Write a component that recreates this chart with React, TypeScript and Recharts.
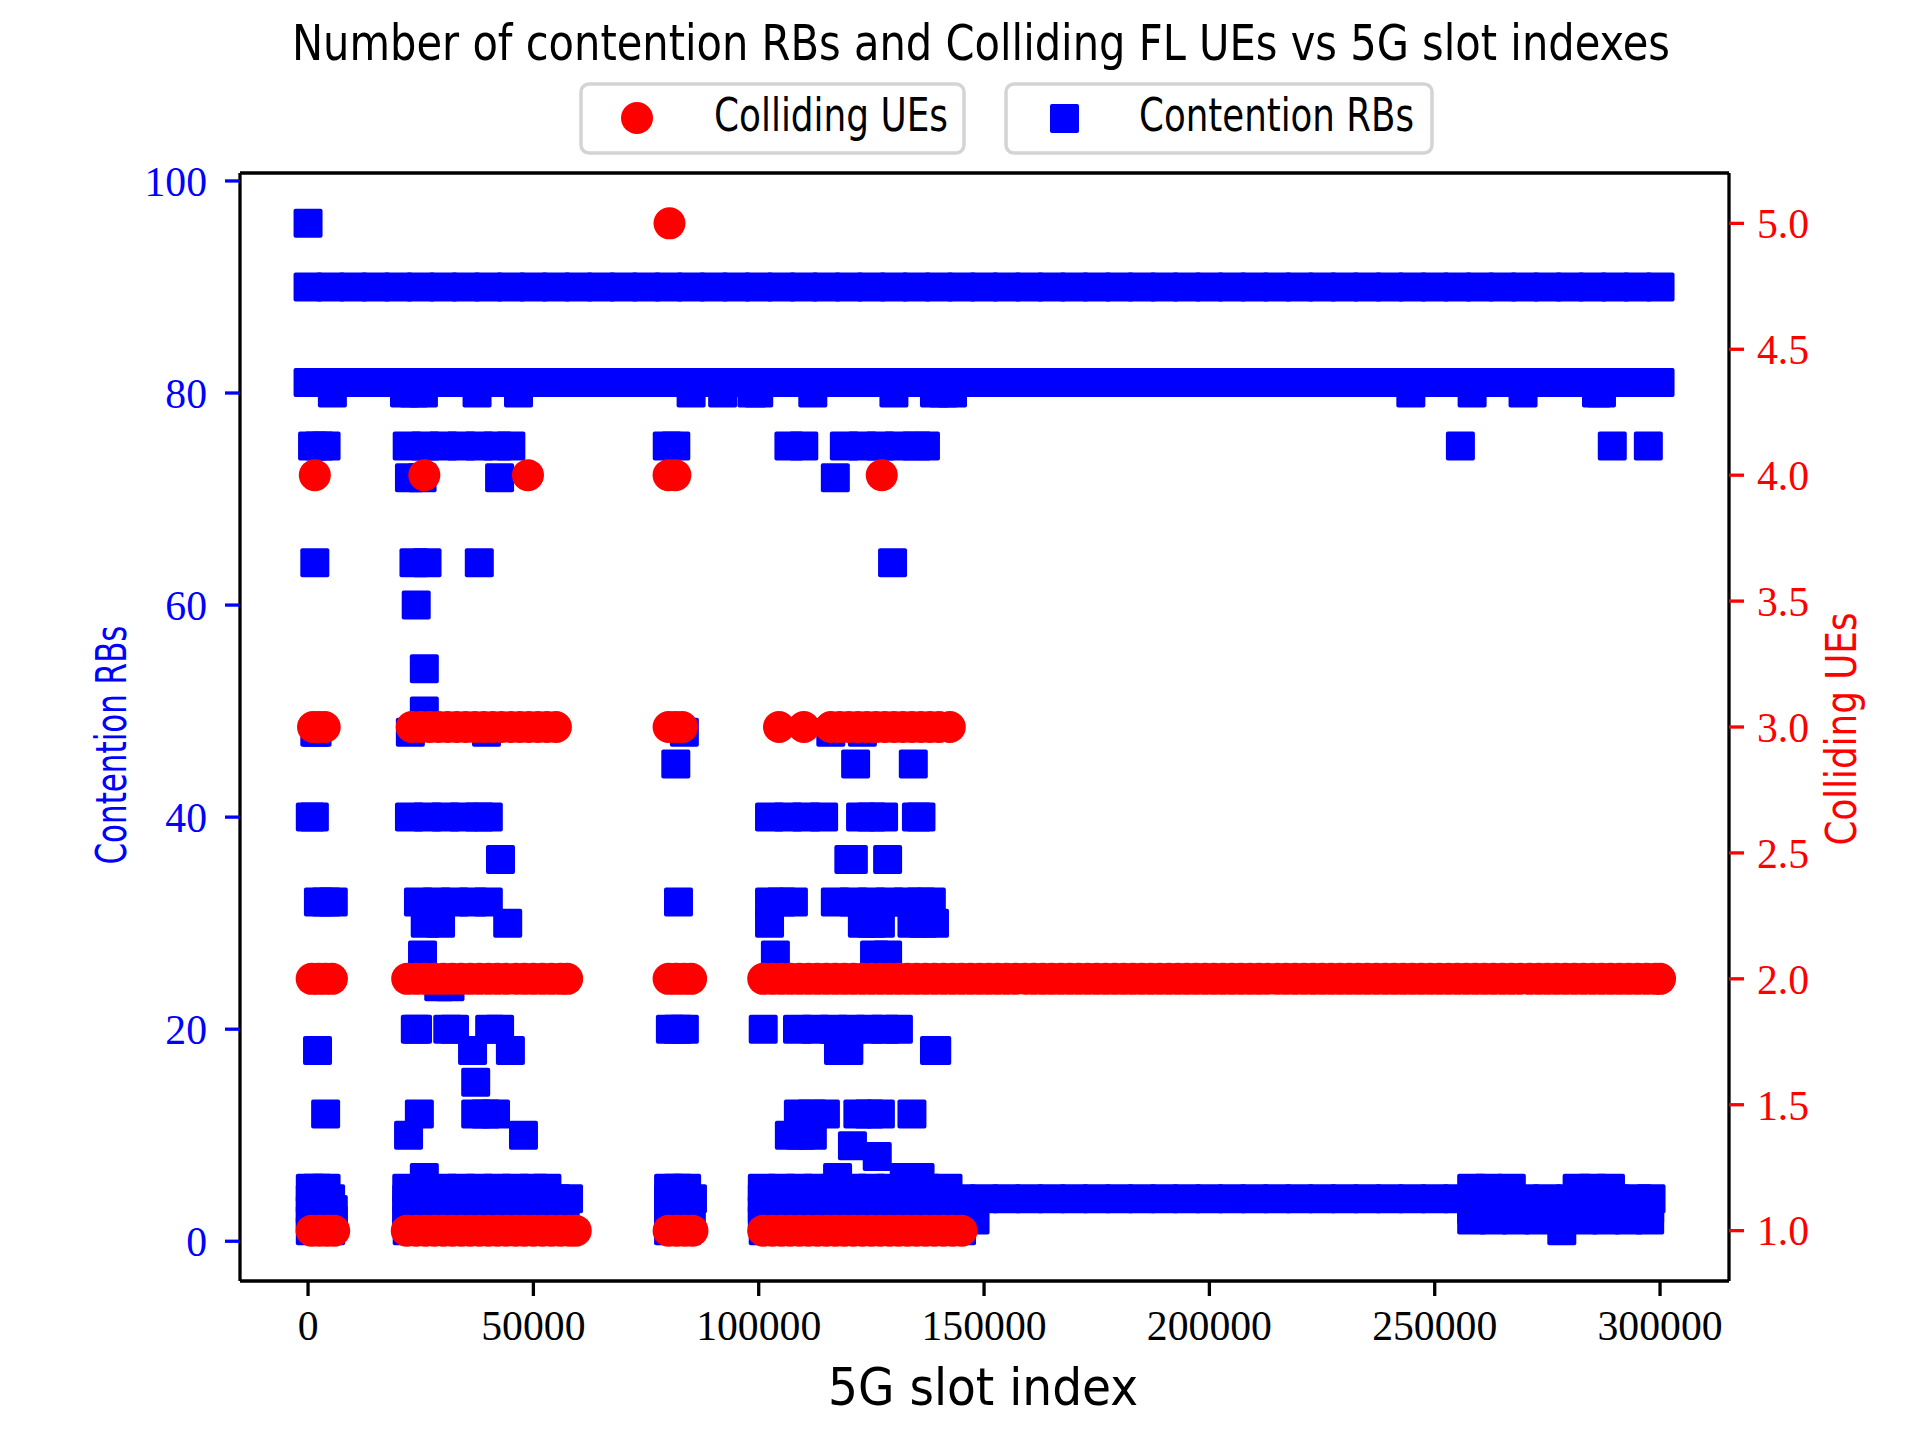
import { ReferenceLine, Scatter, ScatterChart, XAxis, YAxis } from "recharts";

// slot indexes are written in thousands, multiplied out when the points are built
const steadySlots = [
  0, 5, 10, 15, 20, 25, 30, 35, 40, 45, 50, 55, 60, 65, 70, 75, 80, 85, 90, 95, 100,
  105, 110, 115, 120, 125, 130, 135, 140, 145, 150, 155, 160, 165, 170, 175, 180, 185,
  190, 195, 200, 205, 210, 215, 220, 225, 230, 235, 240, 245, 250, 255, 260, 265, 270,
  275, 280, 285, 290, 295, 300,
];

const rb96 = [0];
const rb80 = [5.4, 21.4, 23.5, 25.6, 37.5, 46.7, 85, 92, 98.5, 100, 112, 130, 139, 141, 143, 244.7, 258.3, 269.6, 285.9, 287];
const rb75 = [1, 2.5, 4, 22, 26, 30, 34, 38, 42, 45, 79.7, 81.6, 106.7, 110, 119, 123, 127, 131, 135, 137, 255.7, 289.4, 297.4];
const rb72 = [22.5, 25.3, 42.5, 117];
const rb64 = [1.5, 23.5, 26.4, 38, 129.7];
const rb60 = [24];
const rb54 = [25.8];
const rb50 = [25.8];
const rb48 = [1.5, 2, 22.7, 39.6, 83.5, 116, 123];
const rb45 = [81.6, 121.5, 134.3];
const rb40 = [0.5, 1.4, 22.5, 26.5, 30.5, 34.5, 38, 40, 102.4, 106.5, 110.5, 114.4, 122.6, 125, 127.7, 135, 136];
const rb36 = [42.7, 120, 121, 128.6];
const rb32 = [2.3, 4, 5.6, 24.5, 28.5, 32.5, 36.5, 40, 82.2, 102.4, 105, 107.7, 117, 121, 125, 129, 133, 136, 138.3];
const rb30 = [26, 29.4, 44.3, 102.4, 123, 125, 127, 134, 136.5, 139];
const rb27 = [25.4, 103.7, 125.7, 128.6];
const rb24 = [29, 31.5];
const rb20 = [23.8, 24.3, 31, 32.5, 40.3, 42.5, 80.4, 82, 83.5, 101, 108.6, 112.6, 116.6, 120.6, 124.6, 128, 131];
const rb18 = [2.1, 36.5, 44.9, 117.7, 120, 139, 139.5];
const rb15 = [37.2];
const rb12 = [3.9, 24.7, 37.2, 39.4, 41.6, 108.8, 111.8, 114.8, 122, 124.5, 127, 134];
const rb10 = [22.3, 47.8, 106.8, 109.3, 111.9];
const rb9 = [120.8];
const rb8 = [126.3];
const rb6 = [25.8, 117.5, 132.3, 134, 135.8];
const rb5 = [
  0.5, 2, 4, 21.9, 26, 30, 34, 38, 42, 46, 50, 53, 80, 82, 84, 100.8, 105, 109, 113, 117,
  121, 125, 129, 133, 137, 142, 258.2, 262, 267, 281.6, 285, 289,
];
const rb4 = [
  0.5, 3, 5, 21.9, 26, 31, 36, 41, 46, 51, 55, 57.8, 80, 83, 85.3, 100.8, 105, 110, 115,
  120, 125, 130, 135, 140, 145, 150, 155, 160, 165, 170, 175, 180, 185, 190, 195, 200,
  205, 210, 215, 220, 225, 230, 235, 240, 245, 250, 255, 260, 265, 270, 275, 280, 285,
  290, 295, 298,
];
const rb3 = [
  0.5, 3, 5.6, 21.9, 26, 31, 36, 41, 46, 51, 55, 57, 80, 83, 85, 100.8, 105, 110, 115,
  120, 125, 130, 135, 140, 145, 258.2, 263, 268, 273, 278, 283, 288, 293, 297.7,
];
const rb2 = [
  0.5, 3, 5.6, 21.9, 26, 31, 36, 41, 46, 51, 55, 57, 80, 83, 85, 100.8, 105, 110, 115,
  120, 125, 130, 135, 140, 145, 148, 258.2, 263, 268, 273, 278, 283, 288, 293, 297.7,
];
const rb1 = [0.5, 3, 5, 22, 26, 31, 36, 41, 46, 51, 55, 57, 80, 82, 84, 101, 105, 110, 115, 120, 125, 130, 135, 140, 145, 278.2];

const ue5 = [80.2];
const ue4 = [1.5, 25.8, 48.8, 80, 81.5, 127.3];
const ue3 = [
  1.1, 2.4, 3.7, 23, 25, 27, 29, 31, 33, 35, 37, 39, 41, 43, 45, 47, 49, 51, 53, 55, 80,
  81.5, 83, 104.5, 110, 116, 118, 120, 122, 124, 126, 128, 130, 132, 134, 136, 138, 140,
  142.4,
];
const ue2 = [
  0.8, 2.3, 3.8, 5.3, 22, 24, 26, 28, 30, 32, 34, 36, 38, 40, 42, 44, 46, 48, 50, 52, 54,
  56, 57.5, 80, 81.7, 83.4, 85, 101, 103, 105, 107, 109, 111, 113, 115, 117, 119, 121,
  123, 125, 127, 129, 131, 133, 135, 137, 139, 141, 143, 145, 147, 149, 151, 153, 155,
  157, 159, 161, 163, 165, 167, 169, 171, 173, 175, 177, 179, 181, 183, 185, 187, 189,
  191, 193, 195, 197, 199, 201, 203, 205, 207, 209, 211, 213, 215, 217, 219, 221, 223,
  225, 227, 229, 231, 233, 235, 237, 239, 241, 243, 245, 247, 249, 251, 253, 255, 257,
  259, 261, 263, 265, 267, 269, 271, 273, 275, 277, 279, 281, 283, 285, 287, 289, 291,
  293, 295, 297, 299, 300,
];
const ue1 = [
  0.8, 2.5, 4.2, 5.8, 21.9, 24, 26, 28, 30, 32, 34, 36, 38, 40, 42, 44, 46, 48, 50, 52,
  54, 56, 58, 59.4, 80, 81.8, 83.6, 85.3, 101, 103, 105, 107, 109, 111, 113, 115, 117,
  119, 121, 123, 125, 127, 129, 131, 133, 135, 137, 139, 141, 143, 145,
];

const slotTicks = [0, 50000, 100000, 150000, 200000, 250000, 300000];
const rbTicks = [0, 20, 40, 60, 80, 100];
const ueTicks = [1, 1.5, 2, 2.5, 3, 3.5, 4, 4.5, 5];

const rbLevels: Array<[number, number[]]> = [
  [96, rb96], [90, steadySlots], [81, steadySlots], [80, rb80], [75, rb75], [72, rb72],
  [64, rb64], [60, rb60], [54, rb54], [50, rb50], [48, rb48], [45, rb45], [40, rb40],
  [36, rb36], [32, rb32], [30, rb30], [27, rb27], [24, rb24], [20, rb20], [18, rb18],
  [15, rb15], [12, rb12], [10, rb10], [9, rb9], [8, rb8], [6, rb6], [5, rb5], [4, rb4],
  [3, rb3], [2, rb2], [1, rb1],
];
const ueLevels: Array<[number, number[]]> = [[5, ue5], [4, ue4], [3, ue3], [2, ue2], [1, ue1]];

const toPoints = (levels: Array<[number, number[]]>) =>
  levels.flatMap(([value, slots]) => slots.map((k) => ({ x: k * 1000, y: value })));

const rbPoints = toPoints(rbLevels);
const uePoints = toPoints(ueLevels);

const BLUE = "#0000ff";
const RED = "#ff0000";
const serif = "'Liberation Serif', 'Times New Roman', serif";
const sans = "'Liberation Sans Narrow', 'DejaVu Sans Condensed', 'Roboto Condensed', 'Liberation Sans', sans-serif";
const spine = { stroke: "#000", strokeWidth: 3.3 };

const SquareMark = (p: any) => (
  <rect x={p.cx - 14.5} y={p.cy - 14.5} width={29} height={29} rx={2} fill={BLUE} />
);
const CircleMark = (p: any) => <circle cx={p.cx} cy={p.cy} r={16} fill={RED} />;

export default function App() {
  return (
    <div style={{ position: "absolute", left: 0, top: 0, width: 1920, height: 1440, background: "#fff" }}>
      <ScatterChart width={1920} height={1440} margin={{ top: 173, right: 0, bottom: 0, left: 0 }}>
        <XAxis
          xAxisId="bottom"
          type="number"
          dataKey="x"
          domain={[-15100, 315300]}
          ticks={slotTicks}
          allowDataOverflow
          height={159}
          tickSize={15}
          tickMargin={14}
          axisLine={spine}
          tickLine={spine}
          tick={{ fill: "#000", fontSize: 41.7, fontFamily: serif }}
        />
        <YAxis
          yAxisId="left"
          type="number"
          dataKey="y"
          domain={[-3.75, 100.75]}
          ticks={rbTicks}
          allowDataOverflow
          width={240}
          tickSize={15}
          tickMargin={18}
          axisLine={spine}
          tickLine={{ stroke: BLUE, strokeWidth: 3.3 }}
          tick={{ fill: BLUE, fontSize: 41.7, fontFamily: serif }}
        />
        <YAxis
          yAxisId="right"
          orientation="right"
          type="number"
          dataKey="y"
          domain={[0.8, 5.2]}
          ticks={ueTicks}
          allowDataOverflow
          width={191}
          tickSize={15}
          tickMargin={13}
          axisLine={spine}
          tickLine={{ stroke: RED, strokeWidth: 3.3 }}
          tick={{ fill: RED, fontSize: 41.7, fontFamily: serif }}
          tickFormatter={(v: number) => v.toFixed(1)}
        />
        <ReferenceLine
          xAxisId="bottom"
          yAxisId="left"
          y={100.75}
          stroke="#000"
          strokeWidth={3.3}
        />
        <Scatter
          name="Contention RBs"
          xAxisId="bottom"
          yAxisId="left"
          data={rbPoints}
          shape={SquareMark}
          isAnimationActive={false}
        />
        <Scatter
          name="Colliding UEs"
          xAxisId="bottom"
          yAxisId="right"
          data={uePoints}
          shape={CircleMark}
          isAnimationActive={false}
        />
      </ScatterChart>

      <svg
        width={1920}
        height={1440}
        style={{ position: "absolute", left: 0, top: 0, pointerEvents: "none" }}
      >
        <text x={981} y={60} textAnchor="middle" fontFamily={sans} fontSize={50} fill="#000" textLength={1378} lengthAdjust="spacingAndGlyphs">
          Number of contention RBs and Colliding FL UEs vs 5G slot indexes
        </text>

        <rect x={581} y={84} width={383} height={69} rx={8} fill="#fff" stroke="#d4d4d4" strokeWidth={3.5} />
        <circle cx={637} cy={118} r={16} fill={RED} />
        <text x={714} y={131} fontFamily={sans} fontSize={46} fill="#000" textLength={234} lengthAdjust="spacingAndGlyphs">
          Colliding UEs
        </text>

        <rect x={1006} y={84} width={426} height={69} rx={8} fill="#fff" stroke="#d4d4d4" strokeWidth={3.5} />
        <rect x={1050} y={104} width={29} height={29} rx={2} fill={BLUE} />
        <text x={1139} y={131} fontFamily={sans} fontSize={46} fill="#000" textLength={275} lengthAdjust="spacingAndGlyphs">
          Contention RBs
        </text>

        <text x={983} y={1405} textAnchor="middle" fontFamily={sans} fontSize={52} fill="#000" textLength={310} lengthAdjust="spacingAndGlyphs">
          5G slot index
        </text>

        <text
          transform="translate(126,745) rotate(-90)"
          textAnchor="middle"
          fontFamily={sans}
          fontSize={42}
          fill={BLUE}
          textLength={239}
          lengthAdjust="spacingAndGlyphs"
        >
          Contention RBs
        </text>
        <text
          transform="translate(1856,729) rotate(-90)"
          textAnchor="middle"
          fontFamily={sans}
          fontSize={42}
          fill={RED}
          textLength={233}
          lengthAdjust="spacingAndGlyphs"
        >
          Colliding UEs
        </text>
      </svg>
    </div>
  );
}
